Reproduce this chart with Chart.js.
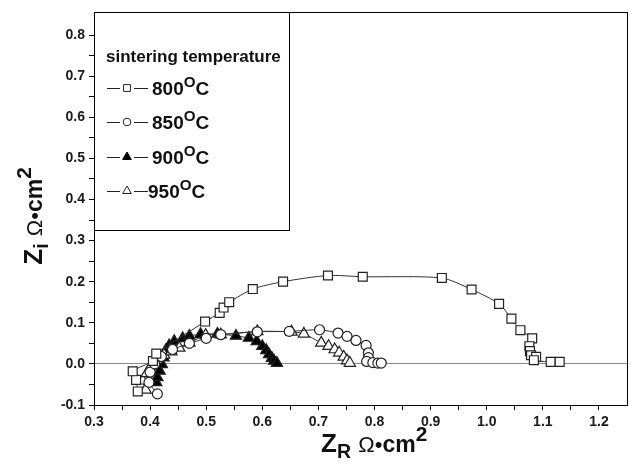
<!DOCTYPE html>
<html><head><meta charset="utf-8">
<script src="https://cdn.jsdelivr.net/npm/chart.js@4"></script>
<style>
body{margin:0;background:#fff;}
#wrap{position:relative;width:637px;height:472px;font-family:"Liberation Sans",Arial,sans-serif;overflow:hidden;}
canvas{position:absolute;left:0;top:0;}
.t{position:absolute;font-weight:bold;color:#111;white-space:nowrap;line-height:1;}
.t sup{font-size:0.8em;vertical-align:0.55em;line-height:0;}
.t sub{font-size:0.75em;vertical-align:-0.3em;line-height:0;}
.om{font-weight:normal;}
</style></head><body>
<div id="wrap"><canvas id="c" width="637" height="472"></canvas>
<div class="t" style="left:106px;top:48px;font-size:17px;">sintering temperature</div>
<div class="t" style="left:152px;top:79px;font-size:19px;">800<sup>O</sup>C</div>
<div class="t" style="left:152px;top:113px;font-size:19px;">850<sup>O</sup>C</div>
<div class="t" style="left:152px;top:148px;font-size:19px;">900<sup>O</sup>C</div>
<div class="t" style="left:148px;top:182px;font-size:19px;">950<sup>O</sup>C</div>
<div class="t" style="left:321px;top:430px;font-size:26px;">Z<sub>R</sub> <span class="om" style="font-size:22px;">Ω•</span><span style="font-size:23px;">cm</span><sup>2</sup></div>
<div class="t" style="left:-52px;top:203px;font-size:26px;transform:rotate(-90deg);transform-origin:center;width:170px;text-align:center;">Z<sub>i</sub> <span class="om" style="font-size:22px;">Ω•</span><span style="font-size:23px;">cm</span><sup>2</sup></div>
</div>
<script>
// ---- data ----
const x800 = [0.378,0.375,0.369,0.405,0.411,0.498,0.524,0.531,0.541,0.583,0.637,0.717,0.779,0.920,0.973,1.022,1.044,1.060,1.081,1.076,1.077,1.079,1.088,1.084,1.114,1.130];
const y800 = [-0.067,-0.039,-0.018,0.007,0.025,0.103,0.124,0.137,0.150,0.182,0.200,0.215,0.212,0.209,0.181,0.146,0.110,0.082,0.062,0.043,0.031,0.021,0.017,0.009,0.005,0.005];
const x850 = [0.413,0.398,0.400,0.408,0.420,0.440,0.470,0.500,0.526,0.591,0.648,0.702,0.735,0.751,0.767,0.785,0.789,0.789,0.786,0.797,0.806,0.812];
const y850 = [-0.073,-0.045,-0.020,0.000,0.018,0.035,0.050,0.062,0.071,0.078,0.079,0.083,0.075,0.067,0.057,0.045,0.027,0.015,0.006,0.003,0.002,0.002];
const x900 = [0.411,0.413,0.417,0.421,0.424,0.428,0.434,0.443,0.458,0.470,0.490,0.520,0.553,0.576,0.590,0.600,0.607,0.612,0.617,0.621,0.626];
const y900 = [-0.045,-0.033,-0.017,-0.001,0.015,0.033,0.045,0.055,0.062,0.068,0.072,0.073,0.068,0.063,0.055,0.043,0.033,0.023,0.014,0.007,0.002];
const x950 = [0.392,0.387,0.394,0.402,0.412,0.425,0.438,0.452,0.470,0.499,0.526,0.591,0.652,0.674,0.705,0.718,0.729,0.737,0.745,0.751,0.756];
const y950 = [-0.063,-0.041,-0.023,-0.005,0.010,0.022,0.030,0.039,0.051,0.070,0.071,0.079,0.078,0.073,0.051,0.043,0.035,0.027,0.017,0.008,0.002];
const seriesNames = ['800','850','900','950'];
const xMajor = [0.3,0.4,0.5,0.6,0.7,0.8,0.9,1.0,1.1,1.2];
const xMinor = [0.35,0.45,0.55,0.65,0.75,0.85,0.95,1.05,1.15];
const yMajor = [-0.1,0.0,0.1,0.2,0.3,0.4,0.5,0.6,0.7,0.8];
const yMinor = [-0.05,0.05,0.15,0.25,0.35,0.45,0.55,0.65,0.75];

const pts = (xs, ys) => xs.map((x, i) => ({x, y: ys[i]}));
const isMajor = (arr, v) => arr.some(m => Math.abs(m - v) < 1e-6);

const common = {showLine:true, borderColor:'#333', borderWidth:1, tension:0.25,
  pointBorderColor:'#222', pointBorderWidth:1.2, pointHoverRadius:0};
const datasets = [
  Object.assign({label:'800', data:pts(x800,y800), pointStyle:'rect', pointRadius:6.3, pointBackgroundColor:'#fff'}, common),
  Object.assign({label:'850', data:pts(x850,y850), pointStyle:'circle', pointRadius:5, pointBackgroundColor:'#fff'}, common),
  Object.assign({label:'950', data:pts(x950,y950), pointStyle:'triangle', pointRadius:6.5, pointBackgroundColor:'#fff'}, common),
  Object.assign({label:'900', data:pts(x900,y900), pointStyle:'triangle', pointRadius:6.5, pointBackgroundColor:'#000', pointBorderColor:'#000'}, common)
];

const frame = {
  id:'frame',
  afterDraw(chart){
    const {ctx, chartArea:a} = chart;
    ctx.save();
    ctx.strokeStyle='#000'; ctx.lineWidth=1;
    ctx.strokeRect(Math.round(a.left)+0.5, Math.round(a.top)+0.5, Math.round(a.right-a.left), Math.round(a.bottom-a.top));
    const L = Math.round(a.left)+0.5, T = Math.round(a.top)+0.5;
    ctx.fillStyle='#fff';
    ctx.fillRect(L, T, 195, 218);
    ctx.strokeRect(L, T, 195, 218);
    const rows = [88,122,157,191];
    const styles = [['rect',false],['circle',false],['triangle',true],['triangle',false]];
    rows.forEach((yy, i) => {
      ctx.strokeStyle='#222'; ctx.lineWidth=1;
      ctx.beginPath(); ctx.moveTo(107,yy+0.5); ctx.lineTo(120,yy+0.5); ctx.moveTo(134,yy+0.5); ctx.lineTo(148,yy+0.5); ctx.stroke();
      const [st, filled] = styles[i];
      ctx.fillStyle = filled ? '#000' : '#fff';
      ctx.strokeStyle = filled ? '#000' : '#222';
      Chart.helpers.drawPoint(ctx, {pointStyle:st, radius: st==='triangle'?5:(st==='rect'?4.8:3.8), rotation:0, borderWidth:1}, 127, yy);
    });
    ctx.restore();
  }
};

new Chart(document.getElementById('c'), {
  type:'scatter',
  data:{datasets},
  plugins:[frame],
  options:{
    responsive:false, animation:false, devicePixelRatio:1,
    layout:{padding:{left:0, top:8, right:10, bottom:0}},
    plugins:{legend:{display:false}, tooltip:{enabled:false}},
    scales:{
      x:{type:'linear', min:0.3, max:1.25,
        afterBuildTicks(s){ s.ticks = xMajor.concat(xMinor).sort((a,b)=>a-b).map(v=>({value:v})); },
        afterFit(s){ s.height = 67; },
        ticks:{autoSkip:false, maxRotation:0, padding:4, color:'#1a1a1a', font:{family:'"Liberation Sans", Arial', size:14, weight:'bold'},
          callback:(v)=> isMajor(xMajor, v) ? v.toFixed(1) : ''},
        grid:{drawOnChartArea:false, tickLength:5, tickColor:'#000', tickWidth:1},
        border:{display:true, color:'#000', width:1}
      },
      y:{type:'linear', min:-0.1, max:0.855,
        afterBuildTicks(s){ s.ticks = yMajor.concat(yMinor).sort((a,b)=>a-b).map(v=>({value:v})); },
        afterFit(s){ s.width = 94; },
        ticks:{autoSkip:false, padding:4, color:'#1a1a1a', font:{family:'"Liberation Sans", Arial', size:14, weight:'bold'},
          callback:(v)=> isMajor(yMajor, v) ? v.toFixed(1) : ''},
        grid:{drawOnChartArea:true, tickLength:5, tickColor:'#000', tickWidth:1,
          color:(c)=> (c.tick && Math.abs(c.tick.value) < 1e-9) ? '#888' : 'rgba(0,0,0,0)'},
        border:{display:true, color:'#000', width:1}
      }
    }
  }
});
</script>
</body></html>
